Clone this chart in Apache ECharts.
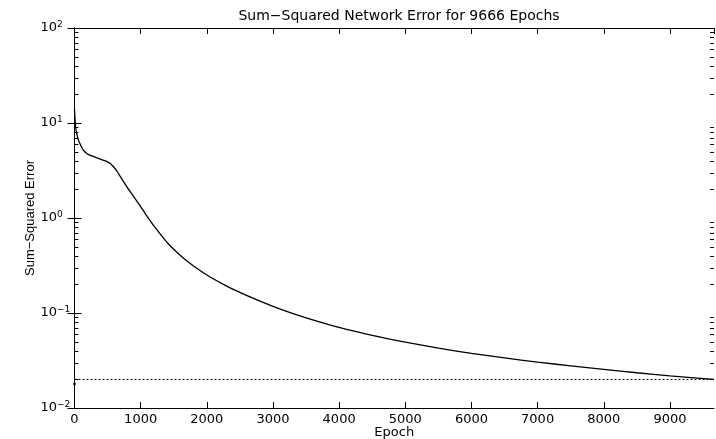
<!DOCTYPE html>
<html>
<head>
<meta charset="utf-8">
<script src="https://cdn.jsdelivr.net/npm/echarts@6/dist/echarts.min.js"></script>
<style>
html,body{margin:0;padding:0;background:#fff;}
#chart{width:716px;height:439px;}
</style>
</head>
<body>
<div id="chart"></div>
<script>
// ---- data ----
const epochs = [0, 8, 20, 36, 60, 86, 130, 190, 260, 340, 440, 490, 530, 565, 600, 650, 700, 800, 900, 1000, 1100, 1200, 1300, 1400, 1500, 1600, 1700, 1800, 2000, 2250, 2500, 2750, 3000, 3250, 3500, 4000, 4500, 5000, 5500, 6000, 6500, 7000, 7500, 8000, 8500, 9000, 9666];
const sse    = [13.9, 11.0, 8.8, 7.6, 6.6, 6.0, 5.2, 4.75, 4.5, 4.29, 4.05, 3.93, 3.80, 3.62, 3.40, 3.05, 2.68, 2.09, 1.66, 1.32, 1.035, 0.825, 0.672, 0.552, 0.468, 0.403, 0.353, 0.313, 0.251, 0.2004, 0.1648, 0.138, 0.1175, 0.1016, 0.0891, 0.0705, 0.0581, 0.0493, 0.0427, 0.0376, 0.0337, 0.0304, 0.0278, 0.0255, 0.0235, 0.0218, 0.0200];
const goal = 0.02;
const goalEpochs = [0, 9666];
const markerPoint = [[0, 0.018]];
const xTicks = [0, 1000, 2000, 3000, 4000, 5000, 6000, 7000, 8000, 9000];
const yDecades = [0.01, 0.1, 1, 10, 100];
const yExponents = ['−2', '−1', '0', '1', '2'];
const yMinorTicks = [0.02, 0.03, 0.04, 0.05, 0.06, 0.07, 0.08, 0.09,
                     0.2, 0.3, 0.4, 0.5, 0.6, 0.7, 0.8, 0.9,
                     2, 3, 4, 5, 6, 7, 8, 9,
                     20, 30, 40, 50, 60, 70, 80, 90];
const xMax = 9666;
const titleText = 'Sum−Squared Network Error for 9666 Epochs';
const xName = 'Epoch';
const yName = 'Sum−Squared Error';

// ---- chart ----
const chart = echarts.init(document.getElementById('chart'), null, {renderer: 'canvas'});
const font = 'DejaVu Sans';
const axisLineStyle = {color: '#000', width: 1};

function expLabel(v) {
  const i = yDecades.findIndex(d => Math.abs(Math.log10(d) - Math.log10(v)) < 1e-6);
  if (i < 0) return '';
  return '{b|10}{s|' + yExponents[i] + '}';
}

const option = {
  animation: false,
  backgroundColor: '#fff',
  title: {
    text: titleText,
    left: 394,
    top: 4,
    textAlign: 'center',
    textStyle: {fontFamily: font, fontSize: 14, fontWeight: 'normal', color: '#000'}
  },
  grid: {left: 74.5, right: 2, top: 28, bottom: 31, outerBoundsMode: 'none', containLabel: false},
  xAxis: [{
    type: 'value', min: 0, max: xMax, interval: 1000, position: 'bottom',
    name: xName, nameLocation: 'middle', nameGap: 18, nameMoveOverlap: false,
    nameTextStyle: {fontFamily: font, fontSize: 13, color: '#000'},
    axisLine: {show: true, lineStyle: axisLineStyle},
    axisTick: {show: true, inside: true, length: 6, lineStyle: axisLineStyle},
    axisLabel: {show: true, showMaxLabel: false, margin: 5, fontFamily: font, fontSize: 13, color: '#000',
      formatter: v => (xTicks.indexOf(v) >= 0 ? String(v) : '')},
    splitLine: {show: false}
  }, {
    type: 'value', min: 0, max: xMax, interval: 1000, position: 'top',
    axisLine: {show: true, lineStyle: axisLineStyle},
    axisTick: {show: true, inside: true, length: 6, lineStyle: axisLineStyle},
    axisLabel: {show: false},
    splitLine: {show: false}
  }],
  yAxis: [{
    type: 'log', logBase: 10, min: 0.01, max: 100, position: 'left',
    name: yName, nameLocation: 'middle', nameGap: 38, nameRotate: 90, nameMoveOverlap: false,
    nameTextStyle: {fontFamily: 'Liberation Sans', fontSize: 13, color: '#000'},
    axisLine: {show: true, lineStyle: axisLineStyle},
    axisTick: {show: true, inside: true, length: 7, lineStyle: axisLineStyle},
    axisLabel: {
      show: true, align: 'left', margin: 34, formatter: expLabel,
      rich: {
        b: {fontFamily: font, fontSize: 13, color: '#000', lineHeight: 16},
        s: {fontFamily: font, fontSize: 9, color: '#000', verticalAlign: 'top', lineHeight: 10}
      }
    },
    splitLine: {show: false}
  }, {
    type: 'log', logBase: 10, min: 0.01, max: 100, position: 'right',
    axisLine: {show: true, lineStyle: axisLineStyle},
    axisTick: {show: true, inside: true, length: 7, lineStyle: axisLineStyle},
    axisLabel: {show: false},
    splitLine: {show: false}
  }],
  series: [{
    type: 'custom',
    xAxisIndex: 0, yAxisIndex: 0,
    clip: false,
    silent: true,
    data: yMinorTicks.map(v => [0, v]),
    renderItem: function (params, api) {
      const v = api.value(1);
      const pL = api.coord([0, v]);
      const pR = api.coord([xMax, v]);
      const L = 4;
      const st = {stroke: '#000', lineWidth: 1};
      return {
        type: 'group',
        children: [
          {type: 'line', shape: {x1: pL[0], y1: Math.round(pL[1]) + 0.5, x2: pL[0] + L, y2: Math.round(pL[1]) + 0.5}, style: st},
          {type: 'line', shape: {x1: pR[0] - L, y1: Math.round(pR[1]) + 0.5, x2: pR[0], y2: Math.round(pR[1]) + 0.5}, style: st}
        ]
      };
    }
  }, {
    type: 'line',
    xAxisIndex: 0, yAxisIndex: 0,
    data: goalEpochs.map(e => [e, goal]),
    symbol: 'none',
    lineStyle: {color: '#000', width: 1, type: [2, 2]},
    silent: true
  }, {
    type: 'line',
    xAxisIndex: 0, yAxisIndex: 0,
    data: epochs.map((e, i) => [e, sse[i]]),
    symbol: 'none',
    smooth: 0.2,
    lineStyle: {color: '#000', width: 1.3},
    silent: true
  }, {
    type: 'scatter',
    xAxisIndex: 0, yAxisIndex: 0,
    data: markerPoint,
    symbol: 'circle',
    symbolSize: 3,
    clip: false,
    itemStyle: {color: '#000'},
    silent: true
  }]
};
chart.setOption(option);
</script>
</body>
</html>
